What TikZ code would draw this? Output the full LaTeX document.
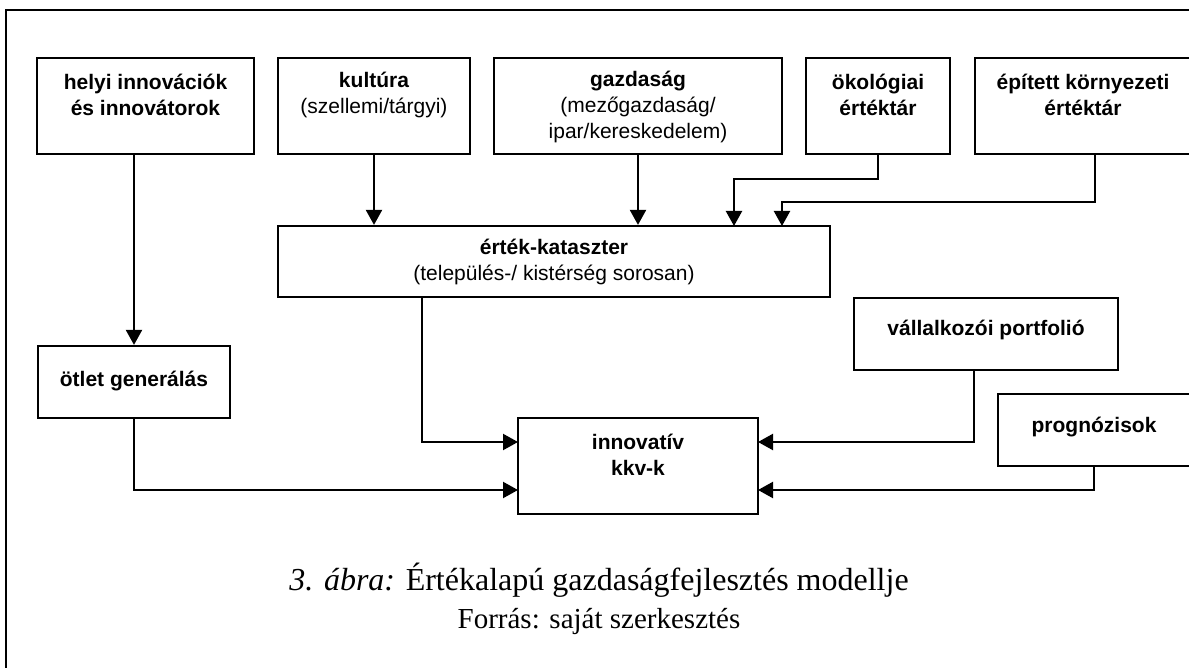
\documentclass[tikz,border=0pt]{standalone}
\usepackage{fontspec}
\setmainfont{Liberation Serif}
\setsansfont{Liberation Sans}
\usetikzlibrary{arrows.meta}
\tikzset{
  boxframe/.style={draw, line width=2.2pt, rectangle, inner sep=0pt},
  boxtext/.style={align=center, inner sep=0pt, font=\sffamily\fontsize{21}{26}\selectfont},
  arr/.style={line width=2.2pt, -{Triangle[length=15pt,width=16pt]}},
}
\begin{document}
\begin{tikzpicture}[x=1pt,y=-1pt]
\useasboundingbox (0,0) rectangle (1189,668);
\clip (0,0) rectangle (1189,668);
\fill[white] (0,0) rectangle (1189,668);
\draw[line width=2.5pt] (6,10) rectangle (1210,700);

% boxes
\node[boxframe, minimum width=217pt, minimum height=96pt] (helyi) at (145.5,106) {};
\node[boxframe, minimum width=192pt, minimum height=96pt] (kult) at (374,106) {};
\node[boxframe, minimum width=288pt, minimum height=96pt] (gazd) at (638,106) {};
\node[boxframe, minimum width=144pt, minimum height=96pt] (okol) at (878,106) {};
\node[boxframe, minimum width=216pt, minimum height=96pt] (epit) at (1083,106) {};
\node[boxframe, minimum width=552pt, minimum height=71pt] (katasz) at (554,261.5) {};
\node[boxframe, minimum width=192pt, minimum height=72pt] (otlet) at (134,382) {};
\node[boxframe, minimum width=264pt, minimum height=72pt] (vall) at (986,334) {};
\node[boxframe, minimum width=240pt, minimum height=96pt] (innov) at (638,466) {};
\node[boxframe, minimum width=192pt, minimum height=72pt] (prog) at (1094,430) {};

% texts
\node[boxtext] (helyi-t) at (145.5,95) {\bfseries helyi innovációk\\\bfseries és innovátorok};
\node[boxtext] (kult-t) at (374,95) {\bfseries kultúra\\(szellemi/tárgyi)};
\node[boxtext] (gazd-t) at (638,107) {\bfseries gazdaság\\(mezőgazdaság/\\ipar/kereskedelem)};
\node[boxtext] (okol-t) at (878,95) {\bfseries ökológiai\\\bfseries értéktár};
\node[boxtext] (epit-t) at (1083,95) {\bfseries épített környezeti\\\bfseries értéktár};
\node[boxtext] (katasz-t) at (554,262) {\bfseries érték-kataszter\\(település-/ kistérség sorosan)};
\node[boxtext] (otlet-t) at (134,381) {\bfseries ötlet generálás};
\node[boxtext] (vall-t) at (986,330) {\bfseries vállalkozói portfolió};
\node[boxtext] (innov-t) at (638,455) {\bfseries innovatív\\\bfseries kkv-k};
\node[boxtext] (prog-t) at (1094,427) {\bfseries prognózisok};

% connector anchor points
\coordinate (k2) at (734,226);
\coordinate (k3) at (782,226);
\coordinate (e1) at (1095,154);
\coordinate (kA) at (422,297);
\coordinate (v1) at (974,370);
\coordinate (i1) at (518,442);
\coordinate (i2) at (518,490);
\coordinate (i3) at (758,442);
\coordinate (i4) at (758,490);

% connectors
\draw[arr] (helyi.south -| otlet.north) -- (otlet.north);
\draw[arr] (kult.south) -- (kult.south |- katasz.north);
\draw[arr] (gazd.south) -- (gazd.south |- katasz.north);
\draw[arr] (okol.south) -- ++(0,24) -| (k2);
\draw[arr] (e1) -- ++(0,48) -| (k3);
\draw[arr] (kA) |- (i1);
\draw[arr] (otlet.south) |- (i2);
\draw[arr] (v1) |- (i3);
\draw[arr] (prog.south) |- (i4);

% caption
\node[inner sep=0pt, font=\fontsize{32}{36}\selectfont] (cap1) at (599,580) {\textit{3. ábra:} Értékalapú gazdaságfejlesztés modellje};
\node[inner sep=0pt, font=\fontsize{29}{33}\selectfont] (cap2) at (599,622) {Forrás: saját szerkesztés};
\end{tikzpicture}
\end{document}
